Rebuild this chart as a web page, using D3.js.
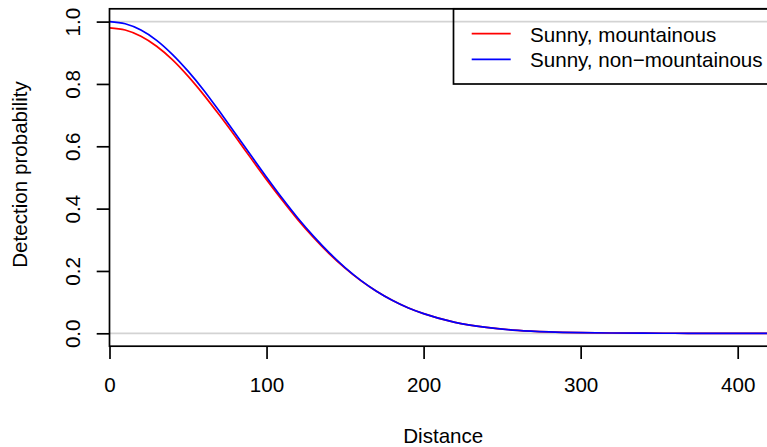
<!DOCTYPE html>
<html>
<head>
<meta charset="utf-8">
<script src="https://cdn.jsdelivr.net/npm/d3@7"></script>
<style>
  html, body { margin: 0; padding: 0; background: #ffffff; }
  svg { display: block; font-family: "Liberation Sans", Arial, Helvetica, sans-serif; }
</style>
</head>
<body>
<svg id="chart" width="767" height="447"></svg>
<script>
// ---- data ----
const distances = [0, 10, 20, 30, 40, 50, 60, 70, 80, 90, 100, 110, 120, 130, 140, 150, 160, 170, 180, 190, 200, 220, 240, 260, 280, 300, 320, 340, 360, 380, 400, 425];
const mountainous = [0.980, 0.973, 0.953, 0.921, 0.878, 0.825, 0.765, 0.700, 0.632, 0.562, 0.493, 0.427, 0.364, 0.307, 0.255, 0.209, 0.169, 0.135, 0.106, 0.082, 0.063, 0.035, 0.019, 0.0094, 0.0045, 0.0020, 0.0009, 0.0004, 0.0001, 0.0, 0.0, 0.0];
const nonMountainous = [1.000, 0.993, 0.973, 0.940, 0.895, 0.841, 0.780, 0.712, 0.642, 0.571, 0.501, 0.433, 0.369, 0.311, 0.258, 0.211, 0.170, 0.135, 0.106, 0.082, 0.063, 0.035, 0.019, 0.0093, 0.0044, 0.0020, 0.0009, 0.0003, 0.0001, 0.0, 0.0, 0.0];
const xTicks = [0, 100, 200, 300, 400];
const yTicks = [0.0, 0.2, 0.4, 0.6, 0.8, 1.0];
const yTickLabels = ["0.0", "0.2", "0.4", "0.6", "0.8", "1.0"];
const refLines = [0, 1];
const seriesNames = ["Sunny, mountainous", "Sunny, non\u2212mountainous"];
const seriesColors = ["#ff0000", "#0000ff"];

// ---- layout ----
const svg = d3.select("#chart");
const FS = 20.6;
const plot = { left: 109.5, right: 777, top: 8.8, bottom: 346.2 };

const x = d3.scaleLinear().domain([0, 100]).range([109.5, 266.55]);
const y = d3.scaleLinear().domain([0, 1]).range([333.3, 21.6]);

svg.append("defs").append("clipPath").attr("id", "clip")
  .append("rect")
  .attr("x", plot.left).attr("y", plot.top)
  .attr("width", plot.right - plot.left).attr("height", plot.bottom - plot.top);

// reference lines
svg.append("g").selectAll("line").data(refLines).join("line")
  .attr("x1", plot.left).attr("x2", plot.right)
  .attr("y1", d => y(d)).attr("y2", d => y(d))
  .attr("stroke", "#d3d3d3").attr("stroke-width", 1.7);

// curves
const line = d3.line().x(d => x(d[0])).y(d => y(d[1])).curve(d3.curveMonotoneX);
const series = [mountainous, nonMountainous];
svg.append("g").attr("clip-path", "url(#clip)")
  .selectAll("path").data(series).join("path")
  .attr("d", s => line(distances.map((d, i) => [d, s[i]])))
  .attr("fill", "none")
  .attr("stroke", (s, i) => seriesColors[i])
  .attr("stroke-width", 1.7);

// x axis
const xAxis = d3.axisBottom(x).tickValues(xTicks).tickSize(12.8).tickPadding(0).tickFormat(d3.format("d"));
const gx = svg.append("g").attr("transform", `translate(0,${plot.bottom})`).call(xAxis);
gx.select(".domain").remove();
gx.selectAll(".tick line").attr("stroke", "#000").attr("stroke-width", 1.7);
gx.selectAll(".tick text").attr("y", 0).attr("dy", null)
  .attr("transform", "translate(0,46)")
  .attr("font-size", FS).attr("font-family", "'Liberation Sans', Arial, sans-serif")
  .attr("fill", "#000");

// y axis
const yAxis = d3.axisLeft(y).tickValues(yTicks).tickSize(12.8).tickFormat((d, i) => yTickLabels[i]);
const gy = svg.append("g").attr("transform", `translate(${plot.left},0)`).call(yAxis);
gy.select(".domain").remove();
gy.selectAll(".tick line").attr("stroke", "#000").attr("stroke-width", 1.7);
gy.selectAll(".tick text")
  .attr("x", null).attr("dy", null).attr("y", null)
  .attr("text-anchor", "middle")
  .attr("transform", "translate(-29.5,0) rotate(-90)")
  .attr("font-size", FS).attr("font-family", "'Liberation Sans', Arial, sans-serif")
  .attr("fill", "#000");

// box
svg.append("rect")
  .attr("x", plot.left).attr("y", plot.top)
  .attr("width", plot.right - plot.left).attr("height", plot.bottom - plot.top)
  .attr("fill", "none").attr("stroke", "#000").attr("stroke-width", 1.7);

// axis titles
svg.append("text").attr("x", (plot.left + plot.right) / 2).attr("y", 443)
  .attr("text-anchor", "middle").attr("font-size", FS).attr("fill", "#000")
  .text("Distance");
svg.append("text")
  .attr("transform", `translate(27,${(plot.top + plot.bottom) / 2 - 3}) rotate(-90)`)
  .attr("text-anchor", "middle").attr("font-size", FS).attr("fill", "#000")
  .text("Detection probability");

// legend
const leg = { left: 453.5, top: 8.8, bottom: 84, right: 777 };
svg.append("rect")
  .attr("x", leg.left).attr("y", leg.top)
  .attr("width", leg.right - leg.left).attr("height", leg.bottom - leg.top)
  .attr("fill", "none").attr("stroke", "#000").attr("stroke-width", 1.7);
const li = svg.append("g").selectAll("g").data(seriesNames).join("g")
  .attr("transform", (d, i) => `translate(0,${33.7 + i * 25.6})`);
li.append("line").attr("x1", 471.7).attr("x2", 510.7).attr("y1", 0).attr("y2", 0)
  .attr("stroke", (d, i) => seriesColors[i]).attr("stroke-width", 1.7);
li.append("text").attr("x", 530).attr("y", 7.8)
  .attr("font-size", FS).attr("fill", "#000").text(d => d);
</script>
</body>
</html>
